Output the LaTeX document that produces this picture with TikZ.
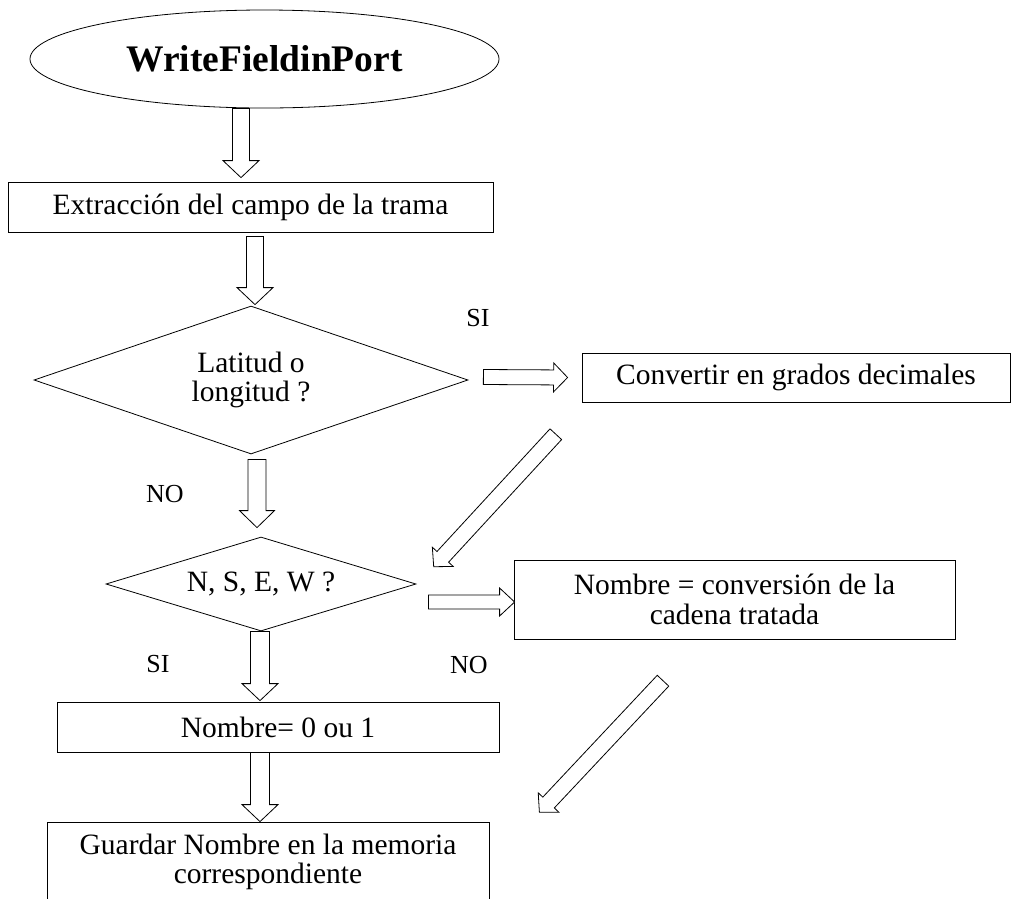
\documentclass[tikz,border=0pt]{standalone}
\usepackage{fontspec}
\setmainfont{Liberation Serif}
\usetikzlibrary{shapes.geometric,calc}

% hollow block arrow: #1 shaft half width, #2 head half width,
% #3 head length, #4 tail point, #5 tip point
\newcommand\blockarrow[5]{%
  \coordinate (ba-s) at #4;
  \coordinate (ba-t) at #5;
  \coordinate (ba-h) at ($(ba-t)!#3!(ba-s)$);
  \draw[blockline]
    ($(ba-s)!#1!90:(ba-t)$) -- ($(ba-h)!#1!90:(ba-t)$) --
    ($(ba-h)!#2!90:(ba-t)$) -- (ba-t) --
    ($(ba-h)!#2!-90:(ba-t)$) -- ($(ba-h)!#1!-90:(ba-t)$) --
    ($(ba-s)!#1!-90:(ba-t)$) -- cycle;
}

\tikzset{
  blockline/.style={draw=black, line width=0.8pt, fill=white, line join=miter},
  bodytext/.style={font=\fontsize{29.5}{29.5}\selectfont, align=center},
  procbox/.style={bodytext, draw, line width=0.8pt, rectangle, inner sep=0pt},
  decision/.style={bodytext, draw, line width=0.8pt, diamond, inner sep=0pt},
  startnode/.style={draw, line width=0.8pt, ellipse, inner sep=0pt,
    font=\bfseries\fontsize{37.5}{40}\selectfont},
  branch/.style={font=\fontsize{26}{28}\selectfont, anchor=base, inner sep=0pt},
}

\begin{document}
\begin{tikzpicture}[x=1pt, y=-1pt]
  \useasboundingbox (0,0) rectangle (1013,898);

  % nodes
  \node[startnode, minimum width=469pt, minimum height=98pt] (ell) at (264.5,59) {WriteFieldinPort};
  \node[procbox, minimum width=485pt, minimum height=50pt] (box1) at (250.5,207) {Extracción del campo de la trama};
  \node[decision, aspect=2.93, minimum width=434pt, minimum height=148pt] (dia1) at (251,380) {Latitud o\\longitud ?};
  \node[procbox, minimum width=428pt, minimum height=49pt] (conv) at (796,377.5) {Convertir en grados decimales};
  \node[decision, aspect=3.3, minimum width=310pt, minimum height=94pt] (dia2) at (261,584) {N, S, E, W ?};
  \node[procbox, minimum width=441pt, minimum height=79pt] (nconv) at (734.5,599.5) {Nombre = conversión de la\\cadena tratada};
  \node[procbox, minimum width=442pt, minimum height=50pt] (nom) at (278,727) {Nombre= 0 ou 1};
  \node[procbox, minimum width=442pt, minimum height=80pt] (guard) at (268,862) {Guardar Nombre en la memoria\\correspondiente};

  % branch labels
  \node[branch] (si1) at (478,326) {SI};
  \node[branch] (no1) at (165,502) {NO};
  \node[branch] (si2) at (158,672) {SI};
  \node[branch] (no2) at (469,673) {NO};

  % vertical flow
  \blockarrow{8.5pt}{18pt}{17pt}{([xshift=-23.5pt]ell.south)}{([xshift=-9.5pt,yshift=4pt]box1.north)}
  \blockarrow{8.5pt}{18pt}{17pt}{([xshift=4.5pt,yshift=-4pt]box1.south)}{([xshift=4pt,yshift=1pt]dia1.north)}
  \blockarrow{9pt}{17.5pt}{17pt}{([xshift=6pt,yshift=-5pt]dia1.south)}{([xshift=-4pt,yshift=9pt]dia2.north)}
  \blockarrow{9.5pt}{18pt}{17pt}{([xshift=-1pt]dia2.south)}{([xshift=-18pt,yshift=1pt]nom.north)}
  \blockarrow{9.5pt}{18pt}{17pt}{([xshift=-18pt]nom.south)}{([xshift=-8pt]guard.north)}

  % horizontal flow
  \blockarrow{7.5pt}{14.5pt}{14pt}{([xshift=15pt,yshift=3pt]dia1.east)}{([xshift=-14pt]conv.west)}
  \blockarrow{7pt}{14pt}{15pt}{([xshift=12pt,yshift=-18pt]dia2.east)}{([xshift=1pt,yshift=-2.5pt]nconv.west)}

  % diagonal returns
  \blockarrow{7.9pt}{14.2pt}{13.4pt}{([xshift=-240.2pt,yshift=-31.8pt]conv.south)}{([xshift=17.3pt,yshift=17.3pt]dia2.east)}
  \blockarrow{7.9pt}{14.2pt}{13.4pt}{([xshift=-71.5pt,yshift=-41.3pt]nconv.south)}{([xshift=50pt,yshift=49.7pt]guard.east)}
\end{tikzpicture}
\end{document}
